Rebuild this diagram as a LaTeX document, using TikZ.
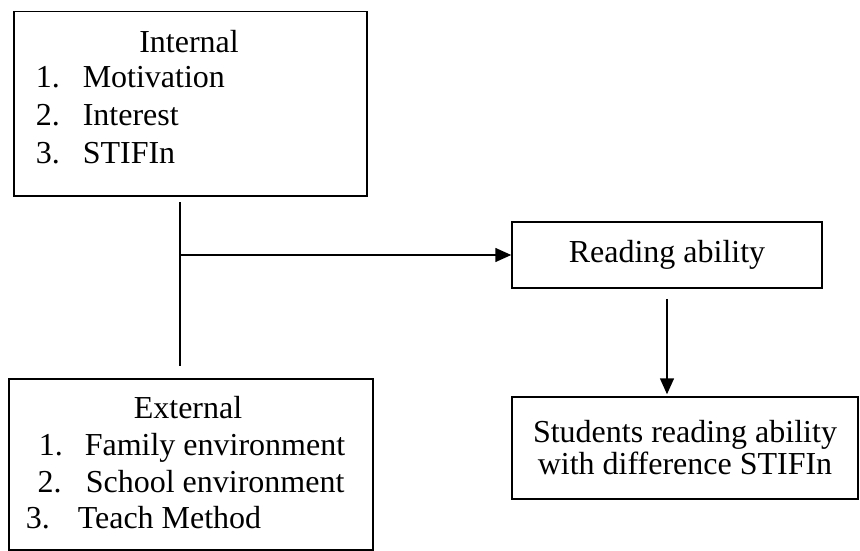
\documentclass[tikz,border=0pt]{standalone}
\usepackage{fontspec}
\setmainfont{Liberation Serif}
\usetikzlibrary{arrows.meta,positioning}
\tikzset{
  frame box/.style={draw, rectangle, line width=1.5pt, inner sep=0pt},
  item text/.style={font=\fontsize{32}{32}\selectfont, inner sep=0pt, anchor=base west},
  head text/.style={font=\fontsize{32}{32}\selectfont, inner sep=0pt, anchor=base},
}
\begin{document}
\begin{tikzpicture}[x=1pt, y=-1pt, line width=1.5pt, >={Triangle[length=16pt,width=14pt]}]
  \useasboundingbox (0,0) rectangle (860,551);

  % internal factors
  \node[frame box, minimum width=353pt, minimum height=184pt, anchor=north west] (internal) at (13,11) {};
  \node[head text] (inhead) at (189,53) {Internal};
  \node[item text] (in1n) at (35,88) {1.};
  \node[item text] (in1) at (82,88) {Motivation};
  \node[item text] (in2n) at (35,125) {2.};
  \node[item text] (in2) at (82,125) {Interest};
  \node[item text] (in3n) at (35,163) {3.};
  \node[item text] (in3) at (82,163) {STIFIn};

  % external factors
  \node[frame box, minimum width=364pt, minimum height=171pt, anchor=north west] (external) at (8,378) {};
  \node[head text] (exhead) at (188,418) {External};
  \node[item text] (ex1n) at (38,455) {1.};
  \node[item text] (ex1) at (84,455) {Family environment};
  \node[item text] (ex2n) at (37,492) {2.};
  \node[item text] (ex2) at (85,492) {School environment};
  \node[item text] (ex3n) at (25,528) {3.};
  \node[item text] (ex3) at (77,528) {Teach Method};

  % results
  \node[frame box, minimum width=310pt, minimum height=66pt, font=\fontsize{32}{32}\selectfont] (reading) at (667,255) {Reading ability};
  \node[frame box, minimum width=346pt, minimum height=102pt, align=center, font=\fontsize{32}{32}\selectfont] (students) at (685,448) {Students reading ability\\with difference STIFIn};

  % connectors
  \coordinate (jtop) at (180,202);
  \coordinate (jbot) at (180,366);
  \coordinate (joint) at (180,255);
  \draw (jtop) -- (jbot);
  \draw[->] (joint) -- (reading.west);
  \draw[->, shorten <=10pt, shorten >=2pt] (reading.south) -- (reading.south |- students.north);
\end{tikzpicture}
\end{document}
